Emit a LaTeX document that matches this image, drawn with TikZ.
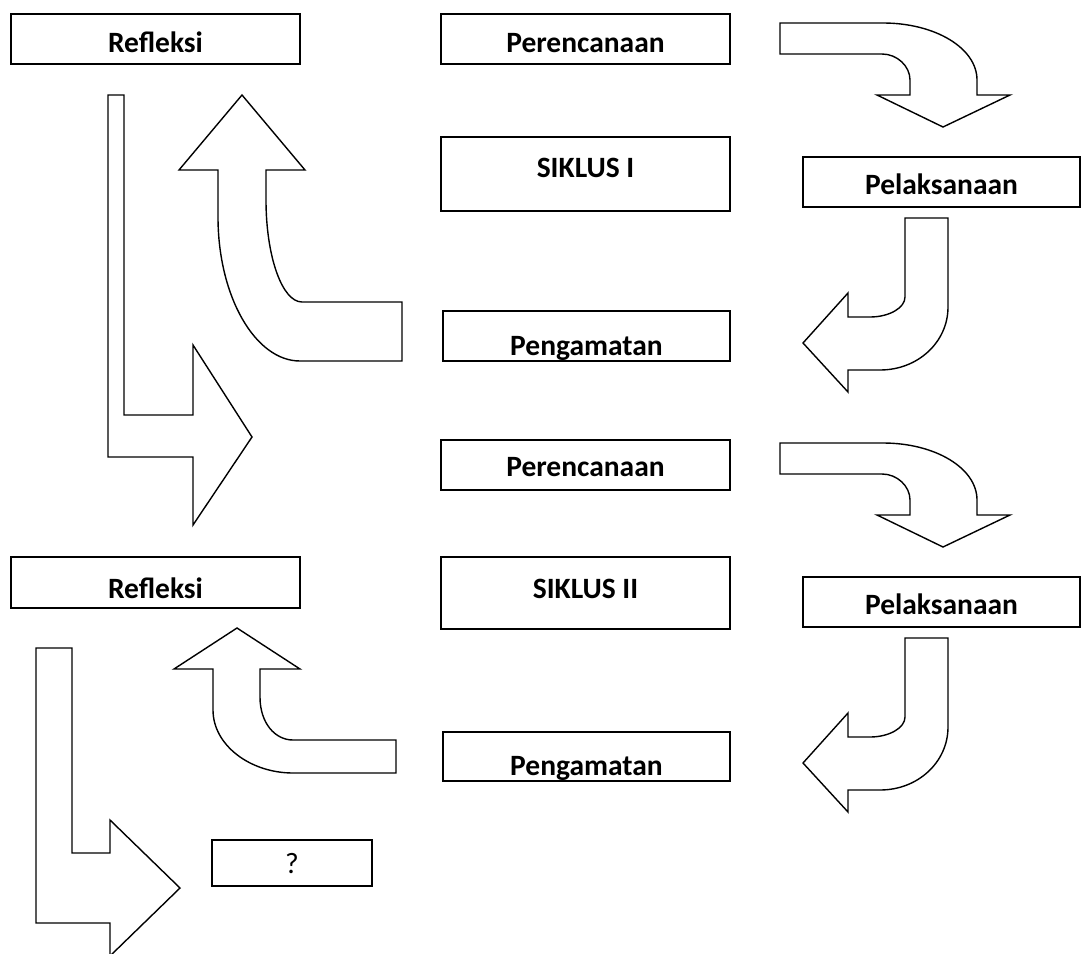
\documentclass[tikz,border=0pt]{standalone}
\usepackage{fontspec}
\setmainfont{Carlito}
\begin{document}
\begin{tikzpicture}[x=1pt,y=-1pt,
  box/.style={draw, line width=1.6pt, rectangle, inner sep=0pt},
  lbl/.style={font=\fontsize{29.5}{35}\selectfont\bfseries, anchor=base, inner sep=0pt},
  qlbl/.style={font=\fontsize{29.5}{35}\selectfont, anchor=base, inner sep=0pt},
  blk/.style={draw, line width=1.4pt, line join=miter}]
\useasboundingbox (0,0) rectangle (1081,953);
\clip (0,0) rectangle (1081,953);

% ---- boxes ----
\node[box, minimum width=289, minimum height=50] (ref1) at (155.5,39) {};
\node[box, minimum width=289, minimum height=50] (per1) at (585.5,39) {};
\node[box, minimum width=289, minimum height=74] (sik1) at (585.5,174) {};
\node[box, minimum width=277, minimum height=50] (pel1) at (941.5,182) {};
\node[box, minimum width=287, minimum height=50] (pen1) at (586.5,336) {};
\node[box, minimum width=289, minimum height=50] (per2) at (585.5,465) {};
\node[box, minimum width=289, minimum height=72] (sik2) at (585.5,593) {};
\node[box, minimum width=289, minimum height=51] (ref2) at (155.5,582.5) {};
\node[box, minimum width=277, minimum height=50] (pel2) at (941.5,602) {};
\node[box, minimum width=287, minimum height=49] (pen2) at (586.5,756.5) {};
\node[box, minimum width=160, minimum height=46] (qbox) at (292,863) {};

% ---- labels ----
\node[lbl] (tref1) at (155.5,52) {Refleksi};
\node[lbl] (tper1) at (585.5,52) {Perencanaan};
\node[lbl] (tsik1) at (585.5,177) {SIKLUS I};
\node[lbl] (tpel1) at (941.5,194) {Pelaksanaan};
\begin{scope}
  \clip (443,311) rectangle (730,359);
  \node[lbl] (tpen1) at (586.5,355) {Pengamatan};
\end{scope}
\node[lbl] (tper2) at (585.5,476) {Perencanaan};
\node[lbl] (tsik2) at (585.5,598) {SIKLUS II};
\node[lbl] (tref2) at (155.5,598) {Refleksi};
\node[lbl] (tpel2) at (941.5,614) {Pelaksanaan};
\begin{scope}
  \clip (443,732) rectangle (730,779);
  \node[lbl] (tpen2) at (586.5,775) {Pengamatan};
\end{scope}
\node[qlbl] (tq) at (292,873) {?};

% ---- block arrows ----
% cycle I : curved right-down
\draw[blk] (780,23) -- (883,23) .. controls (935,23) and (977,48) .. (977,80) -- (977,95) -- (1010,95) -- (943,127) -- (877,95) -- (910,95) -- (910,80) .. controls (910,66) and (897,54) .. (882,54) -- (780,54) -- cycle;
% cycle II : curved right-down
\draw[blk] (780,443) -- (883,443) .. controls (935,443) and (977,468) .. (977,500) -- (977,515) -- (1010,515) -- (943,547) -- (877,515) -- (910,515) -- (910,500) .. controls (910,486) and (897,474) .. (882,474) -- (780,474) -- cycle;
% cycle I : curved down-left
\draw[blk] (905,218) -- (948,218) -- (948,307) .. controls (948,342) and (918,370) .. (880,370) -- (848,370) -- (848,392) -- (803,343) -- (848,293) -- (848,317) -- (870,317) .. controls (889,317) and (905,308) .. (905,297) -- cycle;
% cycle II : curved down-left
\draw[blk] (905,638) -- (948,638) -- (948,727) .. controls (948,762) and (918,790) .. (880,790) -- (848,790) -- (848,812) -- (803,763) -- (848,713) -- (848,737) -- (870,737) .. controls (889,737) and (905,728) .. (905,717) -- cycle;
% cycle I : curved up
\draw[blk] (242,95) -- (305,170) -- (266,170) -- (266,200) .. controls (266,256) and (282,302) .. (302,302) -- (402,302) -- (402,361) -- (300,361) .. controls (255,361) and (218,296) .. (218,217) -- (218,170) -- (179,170) -- cycle;
% cycle II : curved up
\draw[blk] (237,628) -- (300,669) -- (260,669) -- (260,697) .. controls (260,723) and (275,740) .. (293,740) -- (396,740) -- (396,773) -- (293,773) .. controls (250,773) and (213,745) .. (213,710) -- (213,669) -- (174,669) -- cycle;
% cycle I : L-shaped down-right
\draw[blk] (108,95) -- (124,95) -- (124,415) -- (193,415) -- (193,345) -- (252,437) -- (193,525) -- (193,457) -- (108,457) -- cycle;
% cycle II : L-shaped down-right
\draw[blk] (36,648) -- (72,648) -- (72,853) -- (110,853) -- (110,820) -- (180,888) -- (110,956) -- (110,923) -- (36,923) -- cycle;
\end{tikzpicture}
\end{document}
